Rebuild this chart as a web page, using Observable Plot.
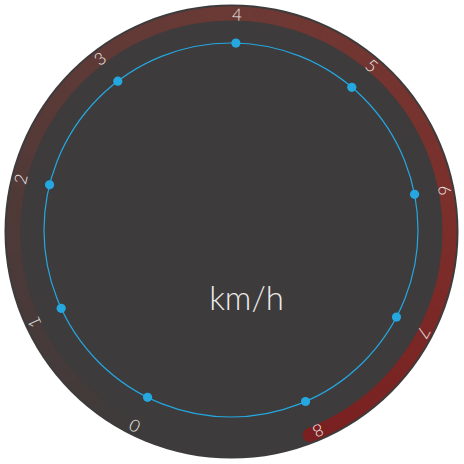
<!DOCTYPE html>
<html>
<head>
<meta charset="utf-8">
<script src="https://cdn.jsdelivr.net/npm/d3@7"></script>
<script src="https://cdn.jsdelivr.net/npm/@observablehq/plot@0.6"></script>
<style>
  html, body { margin: 0; padding: 0; background: #ffffff; }
  #chart { width: 464px; height: 464px; }
  [aria-label="disk"] { filter: drop-shadow(0 0 2px rgba(0,0,0,0.55)); }
</style>
</head>
<body>
<div id="chart"></div>
<script>
// ---- data ----
const ticks = [0, 1, 2, 3, 4, 5, 6, 7, 8];          // gauge scale labels (and ring markers)
const gaugeMin = 0, gaugeMax = 8;
const gaugeValue = 8;                                 // progress value
const unitLabel = "km/h";
const progressStops = [0, 2, 4, 6, 8];
const progressColors = ["#3e3b3b", "#513a38", "#6c3a35", "#7b302c", "#7a2020"];

// ---- geometry ----
const startAngle = -153.5, endAngle = 156.5;  // degrees, clockwise from top
const bandExtra = 2.5;                        // band end overshoot (deg)
const R_DISK = 227, R_BAND = 218, R_LABEL = 216.5, R_RING = 187;
const ringCenter = [-0.5, -1.5];
const angleOf = v => startAngle + (v - gaugeMin) / (gaugeMax - gaugeMin) * (endAngle - startAngle);
const bandAngle = v => angleOf(v) + bandExtra * (v - gaugeMin) / (gaugeMax - gaugeMin);
const px = (r, a) => r * Math.sin(a * Math.PI / 180);
const py = (r, a) => -r * Math.cos(a * Math.PI / 180);

// progress band as short segments
const step = 0.04;
const segs = d3.range(gaugeMin, gaugeValue - 1e-9, step).map(v => ({v0: v, v1: Math.min(v + step, gaugeValue)}));

const chart = Plot.plot({
  width: 464,
  height: 464,
  margin: 0,
  x: {domain: [-231, 233], range: [0, 464], axis: null},
  y: {domain: [-231, 233], range: [0, 464], axis: null},
  color: {type: "linear", domain: progressStops, range: progressColors},
  style: {background: "transparent", fontFamily: "Lato, 'Open Sans', sans-serif"},
  marks: [
    Plot.dot([0], {x: () => 0, y: () => 0, r: R_DISK, fill: "#3d3b3c", stroke: "none", ariaLabel: "disk"}),
    Plot.link(segs, {
      x1: d => px(R_BAND, bandAngle(d.v0)), y1: d => py(R_BAND, bandAngle(d.v0)),
      x2: d => px(R_BAND, bandAngle(d.v1)), y2: d => py(R_BAND, bandAngle(d.v1)),
      stroke: d => (d.v0 + d.v1) / 2, strokeWidth: 14, strokeLinecap: "round"
    }),
    Plot.text(ticks, {
      x: v => px(R_LABEL, angleOf(v)), y: v => py(R_LABEL, angleOf(v)),
      text: v => String(v), rotate: v => angleOf(v),
      fill: "#ececec", fontSize: 17, fontWeight: 300, textAnchor: "middle", lineAnchor: "middle"
    }),
    Plot.dot([0], {x: () => ringCenter[0], y: () => ringCenter[1], r: R_RING, fill: "none", stroke: "#25a7e0", strokeWidth: 1.2}),
    Plot.dot(ticks, {
      x: v => ringCenter[0] + px(R_RING, angleOf(v)), y: v => ringCenter[1] + py(R_RING, angleOf(v)),
      r: 4.6, fill: "#25a7e0", stroke: "none"
    }),
    Plot.text([unitLabel], {
      x: () => 15, y: () => 68, text: d => d,
      fill: "#ececec", fontSize: 33, fontWeight: 300, textAnchor: "middle", lineAnchor: "middle"
    })
  ]
});
document.getElementById("chart").append(chart);
</script>
</body>
</html>
